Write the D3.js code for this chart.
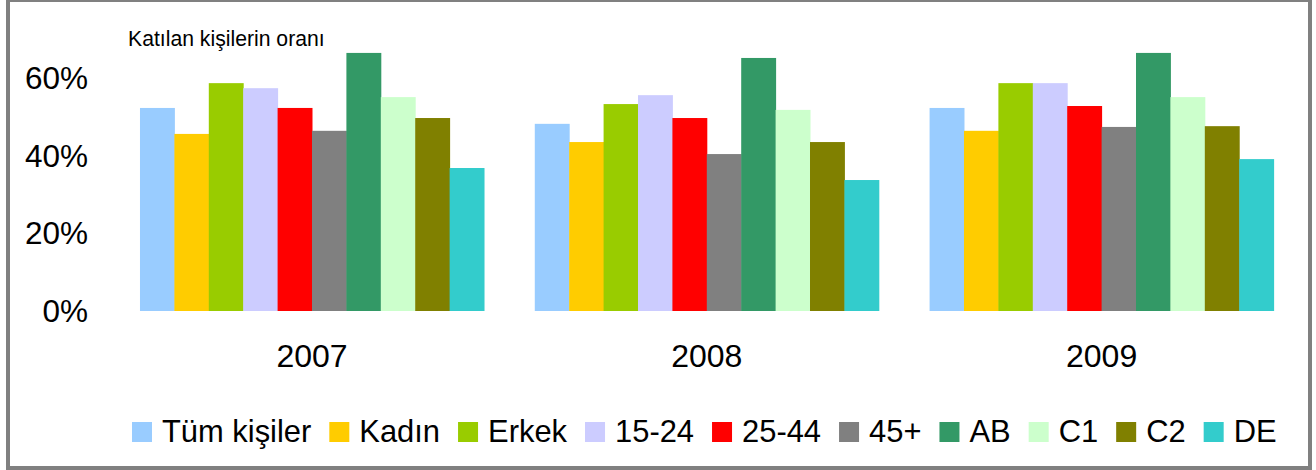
<!DOCTYPE html>
<html>
<head>
<meta charset="utf-8">
<script src="https://cdn.jsdelivr.net/npm/d3@7"></script>
<style>
  body { margin: 0; background: #fff; }
  text { font-family: "Liberation Sans", Arial, sans-serif; fill: #000; }
</style>
</head>
<body>
<div id="chartDiv"></div>
<script>
// categories and series
var years = ["2007", "2008", "2009"];
var groups = ["Tüm kişiler", "Kadın", "Erkek", "15-24", "25-44", "45+", "AB", "C1", "C2", "DE"];

// share of people who took part (%), one array per year, in the order of groups
var values2007 = [52.4, 45.7, 58.8, 57.5, 52.4, 46.5, 66.6, 55.2, 49.8, 36.9];
var values2008 = [48.3, 43.6, 53.4, 55.7, 49.8, 40.5, 65.3, 51.9, 43.6, 33.8];
var values2009 = [52.4, 46.5, 58.8, 58.8, 52.9, 47.5, 66.6, 55.2, 47.7, 39.2];

var yTicks = [0, 20, 40, 60];
var titleText = "Katılan kişilerin oranı";

var barColors = ["#99CCFF", "#FFCC00", "#99CC00", "#CCCCFF", "#FF0000",
                 "#808080", "#339966", "#CCFFCC", "#808000", "#33CCCC"];

var width = 1316,
    height = 470;

var valuesByYear = { "2007": values2007, "2008": values2008, "2009": values2009 };

var svg = d3.select("#chartDiv").append("svg")
    .attr("width", width)
    .attr("height", height);

// outer frame
svg.append("rect")
    .attr("x", 8)
    .attr("y", 0)
    .attr("width", 1302)
    .attr("height", 468)
    .attr("fill", "#fff")
    .attr("stroke", "#808080")
    .attr("stroke-width", 4);

var x0 = d3.scaleBand()
    .domain(years)
    .range([114.6, 1299])
    .paddingInner(0.1286)
    .paddingOuter(0.0643);

var x1 = d3.scaleBand()
    .domain(groups)
    .range([0, x0.bandwidth()]);

var y = d3.scaleLinear()
    .domain([0, 70])
    .range([311, 39.75]);

var color = d3.scaleOrdinal()
    .domain(groups)
    .range(barColors);

// bars
var yearG = svg.append("g")
    .selectAll("g")
    .data(years)
    .enter().append("g")
    .attr("transform", function(d) { return "translate(" + x0(d) + ",0)"; });

yearG.selectAll("rect")
    .data(function(yr) {
        return groups.map(function(g, i) { return { group: g, value: valuesByYear[yr][i] }; });
    })
    .enter().append("rect")
    .attr("x", function(d) { return x1(d.group); })
    .attr("y", function(d) { return y(d.value); })
    .attr("width", x1.bandwidth() + 0.5)
    .attr("height", function(d) { return y(0) - y(d.value); })
    .attr("fill", function(d) { return color(d.group); });

// y axis, labels only
var yAxis = svg.append("g")
    .attr("transform", "translate(88,0)")
    .call(d3.axisLeft(y).tickValues(yTicks).tickSize(0).tickPadding(0)
        .tickFormat(function(d) { return d + "%"; }));
yAxis.select(".domain").remove();
yAxis.selectAll("text")
    .style("font-family", "'Liberation Sans', Arial, sans-serif")
    .style("font-size", "31.5px")
    .attr("fill", "#000");

// x axis, year labels only
var xAxis = svg.append("g")
    .attr("transform", "translate(0,334)")
    .call(d3.axisBottom(x0).tickSize(0).tickPadding(0));
xAxis.select(".domain").remove();
xAxis.selectAll("text")
    .style("font-family", "'Liberation Sans', Arial, sans-serif")
    .style("font-size", "32px")
    .attr("dy", "1.04em")
    .attr("fill", "#000");

// title
svg.append("text")
    .attr("x", 128)
    .attr("y", 46)
    .style("font-size", "21.2px")
    .text(titleText);

// legend
var legend = svg.append("g");
var lx = 132;
groups.forEach(function(g) {
    legend.append("rect")
        .attr("x", lx)
        .attr("y", 422)
        .attr("width", 20)
        .attr("height", 20)
        .attr("fill", color(g));
    var t = legend.append("text")
        .attr("x", lx + 30)
        .attr("y", 442)
        .style("font-size", "30.9px")
        .text(g);
    lx = lx + 30 + t.node().getComputedTextLength() + 18;
});
</script>
</body>
</html>
